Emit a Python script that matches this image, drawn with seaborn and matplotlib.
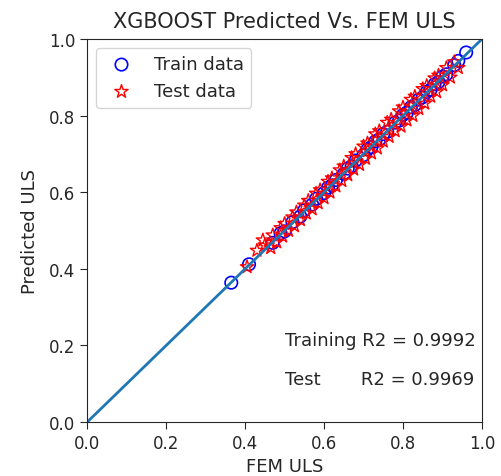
import numpy as np
import seaborn as sns
import matplotlib
matplotlib.use('Agg')
import matplotlib.pyplot as plt

# train / test predictions
x_train = [0.365, 0.41, 0.47, 0.49, 0.50, 0.52, 0.54, 0.55, 0.57, 0.58, 0.60, 0.61, 0.62, 0.63,
           0.65, 0.66, 0.67, 0.68, 0.70, 0.71, 0.72, 0.73, 0.74, 0.75, 0.76, 0.78, 0.79, 0.80,
           0.81, 0.82, 0.83, 0.84, 0.85, 0.86, 0.87, 0.88, 0.89, 0.90, 0.91, 0.93, 0.94, 0.96]
y_train = [0.364, 0.412, 0.468, 0.493, 0.498, 0.522, 0.537, 0.553, 0.568, 0.583, 0.598, 0.612,
           0.618, 0.632, 0.648, 0.662, 0.668, 0.683, 0.697, 0.712, 0.718, 0.733, 0.738, 0.752,
           0.758, 0.782, 0.787, 0.802, 0.808, 0.822, 0.828, 0.842, 0.848, 0.862, 0.868, 0.882,
           0.888, 0.902, 0.908, 0.932, 0.943, 0.965]

x_test = [0.405, 0.43, 0.445, 0.45, 0.465, 0.47, 0.48, 0.49, 0.495, 0.50, 0.51, 0.52, 0.525,
          0.53, 0.54, 0.55, 0.555, 0.56, 0.57, 0.58, 0.585, 0.59, 0.60, 0.61, 0.615, 0.62, 0.63,
          0.64, 0.645, 0.65, 0.66, 0.67, 0.675, 0.68, 0.69, 0.70, 0.705, 0.71, 0.72, 0.73, 0.735,
          0.74, 0.75, 0.76, 0.765, 0.77, 0.78, 0.79, 0.795, 0.80, 0.81, 0.82, 0.825, 0.83, 0.84,
          0.85, 0.855, 0.86, 0.87, 0.88, 0.885, 0.89, 0.90, 0.91, 0.92, 0.93, 0.94]
y_test = [0.405, 0.448, 0.475, 0.462, 0.455, 0.488, 0.470, 0.507, 0.485, 0.518, 0.500, 0.535,
          0.512, 0.548, 0.528, 0.566, 0.545, 0.578, 0.556, 0.597, 0.572, 0.606, 0.585, 0.628,
          0.600, 0.637, 0.616, 0.658, 0.630, 0.668, 0.645, 0.690, 0.660, 0.700, 0.672, 0.720,
          0.688, 0.728, 0.702, 0.752, 0.715, 0.760, 0.733, 0.782, 0.745, 0.790, 0.760, 0.812,
          0.772, 0.822, 0.788, 0.842, 0.800, 0.850, 0.818, 0.870, 0.832, 0.878, 0.850, 0.898,
          0.862, 0.905, 0.880, 0.925, 0.900, 0.940, 0.925]

r2_train = 0.9992
r2_test = 0.9969

sns.set_style('ticks')

fig = plt.figure(figsize=(5.01, 4.77), dpi=100)
ax = fig.add_axes([0.174, 0.113, 0.788, 0.803])

sns.scatterplot(x=x_train, y=y_train, marker='o', s=80, color='blue', facecolor='none',
                edgecolor='blue', linewidth=1.2, label='Train data', ax=ax)
sns.scatterplot(x=x_test, y=y_test, marker='*', s=100, color='red', facecolor='none',
                edgecolor='red', linewidth=1.0, label='Test data', ax=ax)
sns.lineplot(x=[0, 1], y=[0, 1], color='tab:blue', linewidth=2, ax=ax)

ax.set_xlim(0, 1)
ax.set_ylim(0, 1)
ax.set_title('XGBOOST Predicted Vs. FEM ULS', fontsize=15, pad=9)
ax.set_xlabel('FEM ULS', fontsize=13)
ax.set_ylabel('Predicted ULS', fontsize=13, labelpad=7)
ax.tick_params(labelsize=12, length=5)
ax.text(0.5, 0.2, 'Training R2 = %.4f' % r2_train, fontsize=13)
ax.text(0.5, 0.1, 'Test       R2 = %.4f' % r2_test, fontsize=13)
ax.legend(loc='upper left', fontsize=13)

fig.savefig('out.png', dpi=100)
